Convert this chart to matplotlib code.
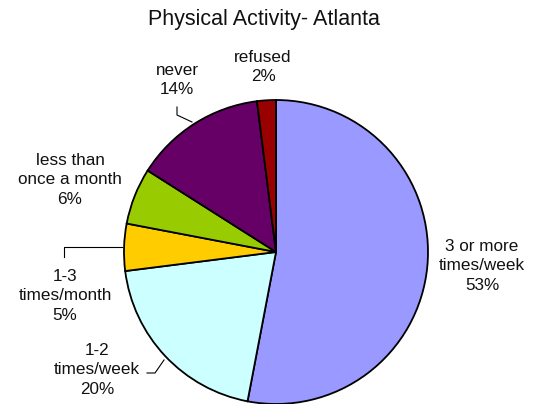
import matplotlib
matplotlib.use("Agg")
import matplotlib.pyplot as plt

categories = ["3 or more\ntimes/week", "1-2\ntimes/week", "1-3\ntimes/month",
              "less than\nonce a month", "never", "refused"]
values = [53, 20, 5, 6, 14, 2]
colors = ["#9999FF", "#CCFFFF", "#FFCC00", "#99CC00", "#660066", "#990000"]
title = "Physical Activity- Atlanta"

W, H = 541, 404
fig = plt.figure(figsize=(W / 100, H / 100), dpi=100)
ax = fig.add_axes([0, 0, 1, 1])

def Y(y):
    return H - y

ax.pie(values, colors=colors, startangle=90, counterclock=False,
       center=(276, Y(252)), radius=152,
       wedgeprops=dict(edgecolor="black", linewidth=1.3))
ax.set_xlim(0, W)
ax.set_ylim(0, H)
ax.set_aspect("equal")
ax.axis("off")

font = dict(family=["Liberation Sans", "DejaVu Sans"], fontsize=12.3, color="#111111",
            ha="center", va="center", linespacing=1.34)

label_pos = [(482, 266), (97, 370), (65, 296), (70, 180), (177, 80), (263, 67)]
for cat, v, (x, y) in zip(categories, values, label_pos):
    ax.text(x, Y(y), f"{cat}\n{v}%", **font)

# leader lines
ax.plot([147, 155, 164], [Y(373), Y(373), Y(360)], color="black", lw=0.8)
ax.plot([64, 64, 122], [Y(257), Y(247), Y(247)], color="black", lw=0.8)
ax.plot([177, 177, 192], [Y(107), Y(115), Y(122)], color="black", lw=0.8)

ax.text(264, Y(20), title, family=["Liberation Sans", "DejaVu Sans"], fontsize=15.5,
        ha="center", va="center", color="#111111")

fig.savefig("out.png", dpi=100)
